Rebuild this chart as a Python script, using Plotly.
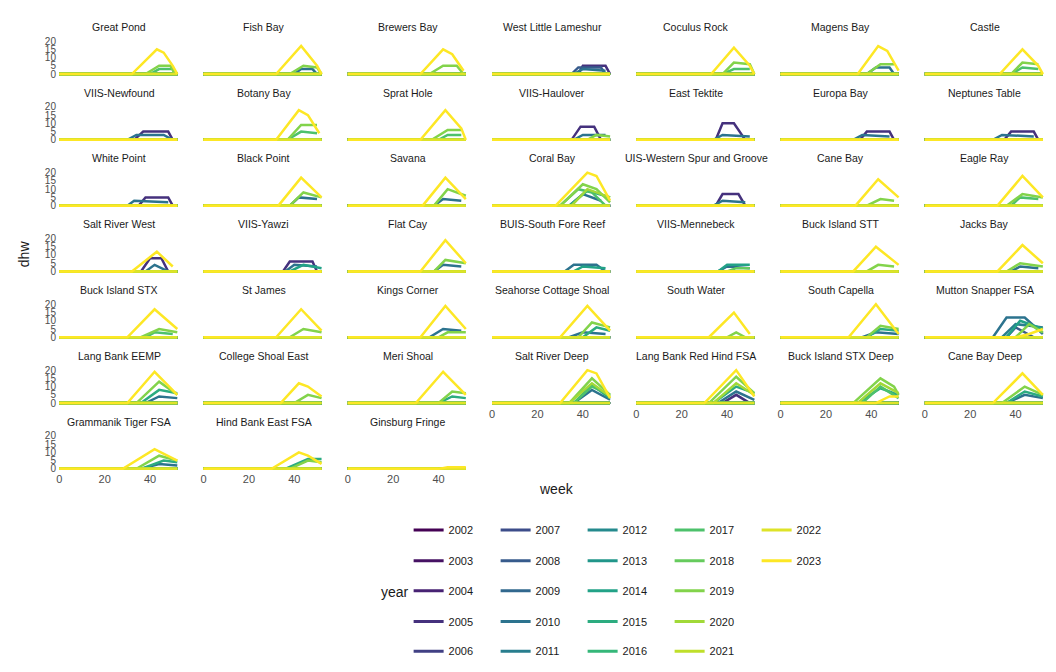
import plotly.graph_objects as go
from plotly.colors import sample_colorscale

# Degree heating weeks by site: each curve given as (week, dhw) knots
years = list(range(2002, 2024))
sites = ["Great Pond", "Fish Bay", "Brewers Bay", "West Little Lameshur", "Coculus Rock", "Magens Bay", "Castle",
         "VIIS-Newfound", "Botany Bay", "Sprat Hole", "VIIS-Haulover", "East Tektite", "Europa Bay", "Neptunes Table",
         "White Point", "Black Point", "Savana", "Coral Bay", "UIS-Western Spur and Groove", "Cane Bay", "Eagle Ray",
         "Salt River West", "VIIS-Yawzi", "Flat Cay", "BUIS-South Fore Reef", "VIIS-Mennebeck", "Buck Island STT", "Jacks Bay",
         "Buck Island STX", "St James", "Kings Corner", "Seahorse Cottage Shoal", "South Water", "South Capella", "Mutton Snapper FSA",
         "Lang Bank EEMP", "College Shoal East", "Meri Shoal", "Salt River Deep", "Lang Bank Red Hind FSA", "Buck Island STX Deep", "Cane Bay Deep",
         "Grammanik Tiger FSA", "Hind Bank East FSA", "Ginsburg Fringe"]

dhw = {
    "Great Pond": {2023: [(32, 0), (43, 15), (46, 13), (50, 5), (52, 0)], 2019: [(38, 0), (44, 5), (49, 5), (51, 0)], 2017: [(40, 0), (44, 3), (50, 3), (51, 0)]},
    "Fish Bay": {2023: [(32, 0), (43, 17), (50, 5), (52, 0)], 2019: [(38, 0), (44, 5), (50, 4), (52, 0)], 2010: [(40, 0), (43, 3), (48, 3), (50, 0)]},
    "Brewers Bay": {2023: [(32, 0), (42, 15), (46, 12), (51, 2)], 2019: [(36, 0), (42, 5), (48, 5), (51, 0)]},
    "West Little Lameshur": {2008: [(35, 0), (38, 4), (48, 4), (50, 0)], 2005: [(38, 0), (40, 5), (50, 5), (52, 0)], 2010: [(36, 0), (40, 3), (50, 2)]},
    "Coculus Rock": {2023: [(33, 0), (43, 16), (50, 5), (52, 0)], 2019: [(38, 0), (43, 7), (50, 6), (52, 0)], 2017: [(38, 0), (43, 3), (50, 3)]},
    "Magens Bay": {2023: [(34, 0), (43, 17), (47, 14), (52, 2)], 2019: [(38, 0), (44, 6), (50, 6)], 2010: [(38, 0), (42, 4), (48, 4), (50, 0)]},
    "Castle": {2023: [(33, 0), (43, 15), (50, 5), (52, 0)], 2019: [(38, 0), (43, 7), (50, 6)], 2017: [(38, 0), (43, 4), (50, 3)]},
    "VIIS-Newfound": {2005: [(33, 0), (37, 5), (48, 5), (50, 0)], 2010: [(30, 0), (34, 3), (46, 3), (50, 0)]},
    "Botany Bay": {2023: [(32, 0), (42, 18), (46, 15), (51, 4)], 2019: [(37, 0), (43, 9), (50, 9)], 2017: [(37, 0), (43, 5), (50, 4)]},
    "Sprat Hole": {2023: [(32, 0), (43, 18), (50, 7), (52, 0)], 2019: [(37, 0), (44, 6), (50, 6)], 2017: [(40, 0), (44, 3), (50, 3)]},
    "VIIS-Haulover": {2005: [(35, 0), (39, 8), (45, 8), (48, 0)], 2010: [(36, 0), (40, 3), (50, 3)], 2019: [(42, 0), (46, 3), (52, 2)]},
    "East Tektite": {2005: [(35, 0), (38, 10), (43, 10), (48, 0)], 2010: [(34, 0), (38, 3), (50, 2)]},
    "Europa Bay": {2005: [(35, 0), (38, 5), (48, 5), (50, 0)], 2010: [(32, 0), (36, 3), (48, 2)]},
    "Neptunes Table": {2005: [(35, 0), (38, 5), (48, 5), (50, 0)], 2010: [(30, 0), (34, 3), (48, 2)]},
    "White Point": {2005: [(35, 0), (38, 5), (48, 5), (50, 0)], 2010: [(30, 0), (33, 3), (48, 2)]},
    "Black Point": {2023: [(33, 0), (43, 17), (52, 5)], 2019: [(38, 0), (44, 8), (52, 5)], 2010: [(38, 0), (42, 5), (50, 4)]},
    "Savana": {2023: [(33, 0), (43, 17), (50, 7), (52, 4)], 2019: [(38, 0), (44, 10), (52, 6)], 2010: [(38, 0), (42, 4), (50, 3)]},
    "Coral Bay": {2023: [(28, 0), (42, 20), (46, 18), (52, 3)], 2019: [(30, 0), (40, 13), (46, 10), (52, 2)], 2017: [(30, 0), (38, 10), (44, 8), (50, 0)],
                  2015: [(34, 0), (42, 9), (52, 5)], 2010: [(34, 0), (40, 7), (48, 3)], 2020: [(35, 0), (42, 10), (52, 5)]},
    "UIS-Western Spur and Groove": {2005: [(35, 0), (38, 7), (45, 7), (48, 0)], 2010: [(34, 0), (38, 3), (48, 2)]},
    "Cane Bay": {2023: [(33, 0), (43, 16), (52, 5)], 2019: [(38, 0), (44, 4), (50, 3)]},
    "Eagle Ray": {2023: [(32, 0), (43, 18), (52, 5)], 2019: [(36, 0), (43, 7), (52, 5)], 2017: [(38, 0), (42, 5), (50, 4)]},
    "Salt River West": {2023: [(32, 0), (43, 12), (50, 3)], 2005: [(36, 0), (40, 8), (45, 8), (48, 0)], 2010: [(38, 0), (42, 4), (48, 0)]},
    "VIIS-Yawzi": {2005: [(35, 0), (38, 6), (48, 6), (50, 0)], 2010: [(36, 0), (40, 4), (50, 3)], 2014: [(38, 0), (44, 4), (52, 2)]},
    "Flat Cay": {2023: [(32, 0), (43, 19), (52, 5)], 2019: [(38, 0), (43, 7), (52, 5)], 2010: [(38, 0), (42, 4), (50, 3)]},
    "BUIS-South Fore Reef": {2010: [(32, 0), (36, 4), (46, 4), (50, 0)], 2014: [(36, 0), (40, 3), (50, 2)]},
    "VIIS-Mennebeck": {2014: [(36, 0), (40, 4), (50, 4)], 2010: [(36, 0), (40, 3), (50, 2)], 2018: [(40, 0), (44, 2), (50, 2)]},
    "Buck Island STT": {2023: [(32, 0), (42, 15), (52, 4)], 2019: [(38, 0), (43, 4), (50, 3)]},
    "Jacks Bay": {2023: [(32, 0), (43, 16), (52, 5)], 2019: [(36, 0), (42, 5), (52, 3)], 2010: [(38, 0), (42, 3), (50, 2)]},
    "Buck Island STX": {2023: [(30, 0), (42, 17), (52, 5)], 2019: [(36, 0), (44, 5), (52, 3)], 2017: [(38, 0), (42, 3), (50, 2)]},
    "St James": {2023: [(32, 0), (43, 17), (52, 4)], 2019: [(38, 0), (44, 5), (52, 3)]},
    "Kings Corner": {2023: [(32, 0), (43, 19), (52, 5)], 2010: [(36, 0), (42, 5), (50, 4)], 2019: [(40, 0), (44, 3), (52, 3)]},
    "Seahorse Cottage Shoal": {2023: [(30, 0), (42, 19), (52, 4)], 2019: [(38, 0), (44, 9), (52, 6)], 2015: [(40, 0), (46, 6), (52, 4)], 2010: [(34, 0), (40, 3), (50, 2)]},
    "South Water": {2023: [(32, 0), (43, 15), (50, 2)], 2019: [(40, 0), (44, 3), (48, 0)]},
    "South Capella": {2023: [(30, 0), (42, 20), (52, 2)], 2019: [(38, 0), (44, 7), (52, 5)], 2015: [(38, 0), (44, 5), (52, 4)], 2010: [(36, 0), (42, 3), (52, 2)]},
    "Mutton Snapper FSA": {2010: [(30, 0), (36, 12), (44, 12), (52, 2)], 2014: [(36, 0), (42, 10), (52, 5)], 2019: [(40, 0), (46, 8), (52, 3)],
                           2023: [(40, 0), (46, 2), (52, 5)], 2011: [(34, 0), (40, 8), (52, 6)], 2008: [(36, 0), (40, 6), (48, 0)]},
    "Lang Bank EEMP": {2023: [(30, 0), (42, 19), (52, 5)], 2019: [(34, 0), (44, 13), (52, 5)], 2015: [(36, 0), (44, 8), (52, 6)], 2010: [(38, 0), (44, 4), (52, 3)]},
    "College Shoal East": {2023: [(34, 0), (42, 12), (46, 10), (52, 4)], 2019: [(40, 0), (46, 5), (52, 3)]},
    "Meri Shoal": {2023: [(30, 0), (42, 19), (52, 5)], 2019: [(40, 0), (46, 7), (52, 6)], 2015: [(40, 0), (46, 4), (52, 3)]},
    "Salt River Deep": {2023: [(30, 0), (42, 20), (46, 18), (52, 3)], 2019: [(34, 0), (44, 15), (52, 5)], 2020: [(34, 0), (44, 12), (52, 4)],
                        2015: [(36, 0), (44, 11), (52, 3)], 2010: [(36, 0), (44, 8), (52, 2)], 2017: [(36, 0), (44, 10), (52, 5)]},
    "Lang Bank Red Hind FSA": {2023: [(30, 0), (44, 20), (52, 4)], 2019: [(32, 0), (44, 16), (52, 6)], 2020: [(34, 0), (44, 12), (52, 5)],
                               2015: [(34, 0), (44, 10), (52, 6)], 2010: [(36, 0), (44, 7), (52, 2)], 2005: [(38, 0), (44, 5), (50, 0)]},
    "Buck Island STX Deep": {2019: [(32, 0), (44, 15), (50, 10), (52, 5)], 2020: [(34, 0), (44, 12), (52, 6)], 2015: [(34, 0), (44, 9), (52, 5)],
                             2023: [(42, 0), (48, 4), (52, 4)], 2017: [(36, 0), (44, 10), (52, 3)]},
    "Cane Bay Deep": {2023: [(30, 0), (43, 18), (52, 5)], 2019: [(34, 0), (44, 10), (52, 5)], 2015: [(36, 0), (44, 7), (52, 4)], 2010: [(36, 0), (44, 5), (52, 3)]},
    "Grammanik Tiger FSA": {2023: [(28, 0), (42, 12), (52, 5)], 2019: [(34, 0), (44, 8), (52, 5)], 2015: [(36, 0), (46, 5), (52, 4)], 2010: [(36, 0), (44, 3), (52, 2)]},
    "Hind Bank East FSA": {2023: [(30, 0), (42, 10), (46, 8), (52, 3)], 2015: [(36, 0), (46, 6), (52, 6)], 2019: [(38, 0), (46, 5), (52, 4)]},
    "Ginsburg Fringe": {2023: [(40, 0), (44, 1), (52, 1)]},
}

colors = sample_colorscale("Viridis", [i / (len(years) - 1) for i in range(len(years))])

W, H = 1056, 672
ncol = 7
fig = go.Figure()
layout = {}
bottom_of_col = {}
for i, s in enumerate(sites):
    r, c = divmod(i, ncol)
    bottom_of_col[c] = i
for i, s in enumerate(sites):
    r, c = divmod(i, ncol)
    n = i + 1
    x0 = 48 + 144.4 * c
    x1 = x0 + 125
    top = 28 + 66.3 * r
    bot = top + 39
    xa = "xaxis" if n == 1 else f"xaxis{n}"
    ya = "yaxis" if n == 1 else f"yaxis{n}"
    layout[xa] = dict(domain=[x0 / W, x1 / W], anchor=f"y{n}" if n > 1 else "y", range=[-1, 54],
                      tickvals=[0, 20, 40], showticklabels=(bottom_of_col[c] == i), showgrid=False,
                      zeroline=False, ticks="", tickfont=dict(size=11, color="#4d4d4d"))
    layout[ya] = dict(domain=[1 - bot / H, 1 - top / H], anchor=f"x{n}" if n > 1 else "x", range=[-1.5, 22],
                      tickvals=[0, 5, 10, 15, 20], showticklabels=(c == 0), showgrid=False,
                      zeroline=False, ticks="", tickfont=dict(size=10, color="#4d4d4d"))
    fig.add_annotation(x=(x0 + x1) / 2 / W, y=1 - (top - 11) / H, xref="paper", yref="paper",
                       xanchor="center", yanchor="middle",
                       text=s, showarrow=False, font=dict(size=10.5, color="#1a1a1a"))
    for k, y in enumerate(years):
        pts = dhw[s].get(y, [(0, 0), (52, 0)])
        if pts[0][0] > 0:
            pts = [(0, 0)] + pts
        fig.add_trace(go.Scatter(x=[p[0] for p in pts], y=[p[1] for p in pts], mode="lines",
                                 line=dict(color=colors[k], width=2.5), showlegend=False,
                                 xaxis=f"x{n}" if n > 1 else "x", yaxis=f"y{n}" if n > 1 else "y",
                                 hovertemplate=f"{s}<br>{y}<br>week %{{x}}<br>dhw %{{y}}<extra></extra>"))

# legend: five rows, each its own horizontal legend, column-major year order
legend_rows_y = [524, 555, 585, 616, 646]
for row in range(5):
    lname = "legend" if row == 0 else f"legend{row + 1}"
    for col in range(5):
        k = col * 5 + row
        if k >= len(years):
            continue
        fig.add_trace(go.Scatter(x=[None], y=[None], mode="lines", name=str(years[k]),
                                 line=dict(color=colors[k], width=3), legend=lname))
    layout[lname] = dict(orientation="h", x=400 / W, xanchor="left", y=1 - legend_rows_y[row] / H,
                         yanchor="middle", entrywidth=42, font=dict(size=11, color="#1a1a1a"),
                         bgcolor="rgba(0,0,0,0)", itemwidth=30)

fig.add_annotation(x=548 / W, y=1 - 483 / H, xref="paper", yref="paper", text="week", showarrow=False,
                   xanchor="center", yanchor="middle", font=dict(size=14, color="#1a1a1a"))
fig.add_annotation(x=15 / W, y=1 - 245 / H, xref="paper", yref="paper", text="dhw", showarrow=False,
                   xanchor="center", yanchor="middle", textangle=-90, font=dict(size=14, color="#1a1a1a"))
fig.add_annotation(x=386 / W, y=1 - 586 / H, xref="paper", yref="paper", text="year", showarrow=False,
                   xanchor="center", yanchor="middle", font=dict(size=14, color="#1a1a1a"))

fig.update_layout(width=W, height=H, margin=dict(l=0, r=0, t=0, b=0), plot_bgcolor="white",
                  paper_bgcolor="white", font=dict(family="Liberation Sans, Arial, sans-serif"), **layout)
fig.write_html("out.html")
